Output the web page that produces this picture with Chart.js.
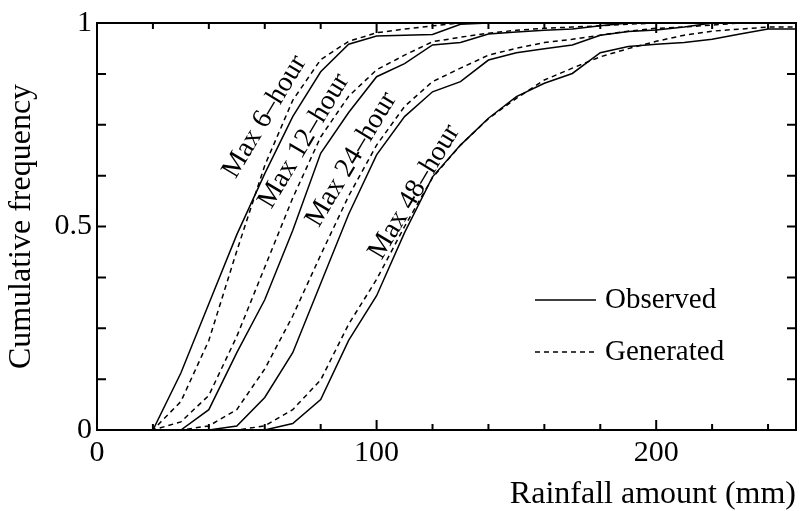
<!DOCTYPE html>
<html>
<head>
<meta charset="utf-8">
<script src="https://cdn.jsdelivr.net/npm/chart.js@4.4.1/dist/chart.umd.min.js"></script>
<style>
  html, body { margin: 0; padding: 0; background: #fff; }
</style>
</head>
<body>
<canvas id="chart" width="801" height="511"></canvas>
<script>
// rainfall amount (mm), one point every 10 mm
const rain = [0, 10, 20, 30, 40, 50, 60, 70, 80, 90, 100, 110, 120, 130, 140, 150, 160, 170, 180, 190, 200, 210, 220, 230, 240, 250];

// cumulative frequency, observed (solid) and generated (dashed)
const obs6  = [0, 0, 0, 0.14, 0.31, 0.48, 0.63, 0.77, 0.88, 0.948, 0.968, 0.970, 0.972, 0.997, 1, 1, 1, 1, 1, 1, 1, 1, 1, 1, 1, 1];
const gen6  = [0, 0, 0, 0.07, 0.22, 0.44, 0.65, 0.81, 0.91, 0.955, 0.976, 0.985, 0.993, 1, 1, 1, 1, 1, 1, 1, 1, 1, 1, 1, 1, 1];
const obs12 = [0, 0, 0, 0, 0.05, 0.19, 0.32, 0.49, 0.68, 0.78, 0.868, 0.90, 0.946, 0.952, 0.973, 0.978, 0.982, 0.985, 0.993, 1, 1, 1, 1, 1, 1, 1];
const gen12 = [0, 0, 0, 0.02, 0.085, 0.23, 0.40, 0.57, 0.72, 0.82, 0.885, 0.921, 0.954, 0.965, 0.975, 0.982, 0.987, 0.990, 0.993, 0.997, 1, 1, 1, 1, 1, 1];
const obs24 = [0, 0, 0, 0, 0, 0.01, 0.08, 0.19, 0.36, 0.53, 0.676, 0.77, 0.831, 0.856, 0.909, 0.927, 0.937, 0.946, 0.970, 0.979, 0.983, 0.990, 1, 1, 1, 1];
const gen24 = [0, 0, 0, 0, 0.01, 0.05, 0.15, 0.28, 0.43, 0.575, 0.70, 0.795, 0.856, 0.889, 0.921, 0.938, 0.952, 0.960, 0.970, 0.980, 0.987, 0.990, 0.995, 1, 1, 1];
const obs48 = [0, 0, 0, 0, 0, 0, 0, 0.016, 0.075, 0.22, 0.33, 0.485, 0.622, 0.70, 0.766, 0.819, 0.852, 0.876, 0.927, 0.942, 0.948, 0.952, 0.960, 0.973, 0.985, 0.985];
const gen48 = [0, 0, 0, 0, 0, 0, 0.01, 0.05, 0.123, 0.26, 0.37, 0.50, 0.62, 0.70, 0.765, 0.815, 0.86, 0.889, 0.917, 0.937, 0.955, 0.970, 0.980, 0.985, 0.990, 0.990];

// axis ticks
const xLabelTicks = [0, 100, 200];
const xMinorTicks = [20, 40, 60, 80, 120, 140, 160, 180, 220, 240];
const xMajorTicks = [100, 200];
const yLabelTicks = [0, 0.5, 1];
const yMinorTicks = [0.125, 0.25, 0.375, 0.5, 0.625, 0.75, 0.875];

// curve labels: text and anchor in data units (mm, frequency)
const curveNames  = ['Max 6\u2013hour', 'Max 12\u2013hour', 'Max 24\u2013hour', 'Max 48\u2013hour'];
const curveAnchor = [[60, 0.77], [74, 0.71], [91, 0.665], [113.5, 0.585]];

const legendNames = ['Observed', 'Generated'];

const FONT = '"Liberation Serif", "Times New Roman", serif';

function series(vals, dashed) {
  return {
    data: rain.map((x, i) => ({ x: x, y: vals[i] })),
    borderColor: '#000',
    borderWidth: 1.5,
    borderDash: dashed ? [5, 4] : [],
    pointRadius: 0,
    tension: 0,
    fill: false
  };
}

// frame, inward ticks, rotated curve names and the legend
const decorations = {
  id: 'decorations',
  afterDatasetsDraw(chart) {
    const { ctx, chartArea: a, scales: { x, y } } = chart;
    ctx.save();
    ctx.strokeStyle = '#000';
    ctx.lineWidth = 2;
    ctx.strokeRect(a.left, a.top, a.right - a.left, a.bottom - a.top);

    ctx.beginPath();
    xMinorTicks.forEach(v => {
      const px = x.getPixelForValue(v);
      ctx.moveTo(px, a.bottom); ctx.lineTo(px, a.bottom - 6);
      ctx.moveTo(px, a.top); ctx.lineTo(px, a.top + 6);
    });
    xMajorTicks.forEach(v => {
      const px = x.getPixelForValue(v);
      ctx.moveTo(px, a.bottom); ctx.lineTo(px, a.bottom - 10);
      ctx.moveTo(px, a.top); ctx.lineTo(px, a.top + 10);
    });
    yMinorTicks.forEach(v => {
      const py = y.getPixelForValue(v);
      ctx.moveTo(a.left, py); ctx.lineTo(a.left + 9, py);
      ctx.moveTo(a.right, py); ctx.lineTo(a.right - 9, py);
    });
    ctx.stroke();

    // curve names
    ctx.fillStyle = '#000';
    ctx.font = '28px ' + FONT;
    ctx.textAlign = 'center';
    ctx.textBaseline = 'middle';
    curveNames.forEach((t, i) => {
      const px = x.getPixelForValue(curveAnchor[i][0]);
      const py = y.getPixelForValue(curveAnchor[i][1]);
      ctx.save();
      ctx.translate(px, py);
      ctx.rotate(-59 * Math.PI / 180);
      ctx.fillText(t, 0, 0);
      ctx.restore();
    });

    // legend
    ctx.font = '29px ' + FONT;
    ctx.textAlign = 'left';
    ctx.lineWidth = 1.5;
    legendNames.forEach((t, i) => {
      const ly = 300 + i * 52;
      ctx.setLineDash(i ? [5, 4] : []);
      ctx.beginPath();
      ctx.moveTo(535, ly); ctx.lineTo(596, ly);
      ctx.stroke();
      ctx.fillText(t, 605, ly);
    });
    ctx.restore();
  }
};

new Chart(document.getElementById('chart'), {
  type: 'line',
  data: {
    datasets: [
      series(obs6, false), series(gen6, true),
      series(obs12, false), series(gen12, true),
      series(obs24, false), series(gen24, true),
      series(obs48, false), series(gen48, true)
    ]
  },
  options: {
    responsive: false,
    animation: false,
    devicePixelRatio: 1,
    layout: { padding: { top: 23, right: 5, left: 0, bottom: 0 } },
    plugins: { legend: { display: false }, tooltip: { enabled: false } },
    scales: {
      x: {
        type: 'linear', min: 0, max: 250,
        grid: { display: false, drawTicks: false },
        border: { display: false },
        afterBuildTicks: s => { s.ticks = xLabelTicks.map(v => ({ value: v })); },
        afterFit: s => { s.height = 81; },
        ticks: { padding: 5, color: '#000', font: { family: FONT, size: 30 }, maxRotation: 0 },
        title: {
          display: true, text: 'Rainfall amount (mm)', align: 'end', color: '#000',
          font: { family: FONT, size: 32, lineHeight: 1 }, padding: { top: 0, bottom: 0 }
        }
      },
      y: {
        min: 0, max: 1,
        grid: { display: false, drawTicks: false },
        border: { display: false },
        afterBuildTicks: s => { s.ticks = yLabelTicks.map(v => ({ value: v })); },
        afterFit: s => { s.width = 97; },
        ticks: { padding: 5, color: '#000', font: { family: FONT, size: 30 }, callback: v => String(v) },
        title: {
          display: true, text: 'Cumulative frequency', color: '#000',
          font: { family: FONT, size: 32, lineHeight: 1 }, padding: { top: 6, bottom: 0 }
        }
      }
    }
  },
  plugins: [decorations]
});
</script>
</body>
</html>
